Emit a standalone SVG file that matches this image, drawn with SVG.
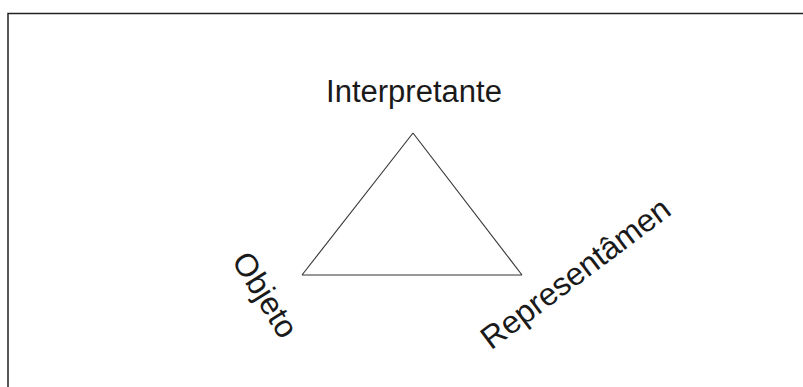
<svg xmlns="http://www.w3.org/2000/svg" width="803" height="387" viewBox="0 0 803 387">
<style>
.lbl{font-family:"Liberation Sans",Arial,sans-serif;fill:#1a1a1a;text-anchor:middle}
.edge{stroke:#333;stroke-width:1.1;fill:none}
</style>
<rect x="0" y="0" width="803" height="387" fill="#fff"/>
<rect x="8" y="13.5" width="820" height="400" fill="none" stroke="#222" stroke-width="1.5"/>
<g id="connectors">
<line class="edge" x1="413" y1="133" x2="302" y2="275"/>
<line class="edge" x1="413" y1="133" x2="522" y2="275"/>
<line class="edge" x1="302" y1="275" x2="522" y2="275" stroke-width="1.5"/>
</g>
<g id="interpretante"><text class="lbl" x="414" y="102" font-size="31">Interpretante</text></g>
<g id="objeto"><text class="lbl" font-size="32" transform="translate(256,300.6) rotate(58)">Objeto</text></g>
<g id="representamen"><text class="lbl" font-size="32" transform="translate(582,282) rotate(-37)">Representâmen</text></g>
</svg>
